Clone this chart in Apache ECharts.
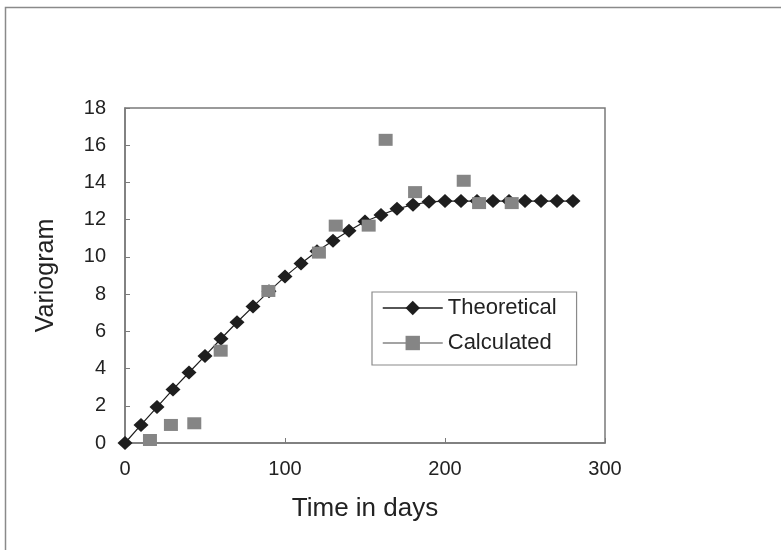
<!DOCTYPE html>
<html>
<head>
<meta charset="utf-8">
<script src="https://cdn.jsdelivr.net/npm/echarts@6/dist/echarts.min.js"></script>
<style>
html,body{margin:0;padding:0;background:#fff;}
#c{width:781px;height:550px;}
</style>
</head>
<body>
<div id="c"></div>
<script>
// Data
const theoX = [0,10,20,30,40,50,60,70,80,90,100,110,120,130,140,150,160,170,180,190,200,210,220,230,240,250,260,270,280];
const theoY = [0,0.97,1.93,2.88,3.79,4.68,5.6,6.49,7.33,8.15,8.94,9.65,10.3,10.87,11.4,11.9,12.25,12.58,12.8,12.96,13,13,13,13,13,13,13,13,13];
const calcX = [15.6,28.7,43.3,59.8,89.6,121.2,131.7,152.3,162.9,181.3,211.7,221.3,241.7];
const calcY = [0.16,0.97,1.06,4.96,8.17,10.23,11.68,11.68,16.29,13.48,14.09,12.89,12.89];
const seriesNames = ['Theoretical','Calculated'];
const xTitle = 'Time in days';
const yTitle = 'Variogram';

const FONT = '"Liberation Sans", Arial, sans-serif';
const chart = echarts.init(document.getElementById('c'), null, {renderer:'canvas'});

const theoData = theoX.map((x,i)=>[x, theoY[i]]);
const calcData = calcX.map((x,i)=>[x, calcY[i]]);

chart.setOption({
  animation:false,
  backgroundColor:'#fff',
  graphic:[{
    type:'rect', shape:{x:5.5,y:7.5,width:820,height:600},
    style:{fill:'none',stroke:'#8a8a8a',lineWidth:1.5}, z:-10
  }],
  grid:{left:125,top:108,right:176,bottom:107,show:true,borderColor:'#7a7a7a',borderWidth:1.5,backgroundColor:'transparent'},
  legend:{
    orient:'vertical', left:372, top:292,
    padding:[5,20,11,10], itemGap:13, itemWidth:60, itemHeight:18,
    borderColor:'#8a8a8a', borderWidth:1.2, backgroundColor:'#fff',
    textStyle:{fontFamily:FONT,fontSize:22,color:'#222'},
    data:[
      {name:seriesNames[0], itemStyle:{color:'#1e1e1e'}, lineStyle:{color:'#1e1e1e',width:1.3,opacity:1}},
      {name:seriesNames[1], itemStyle:{color:'#858585'}, lineStyle:{color:'#858585',width:1.5,opacity:1}}
    ]
  },
  xAxis:{
    type:'value', min:0, max:300, interval:100,
    name:xTitle, nameLocation:'middle', nameGap:53,
    nameTextStyle:{fontFamily:FONT,fontSize:26,color:'#222'},
    axisLine:{show:true,lineStyle:{color:'#7a7a7a',width:1.5}},
    axisTick:{show:true,inside:true,length:5,lineStyle:{color:'#7a7a7a'}},
    axisLabel:{fontFamily:FONT,fontSize:20,color:'#222',margin:16},
    splitLine:{show:false}
  },
  yAxis:{
    type:'value', min:0, max:18, interval:2,
    name:yTitle, nameLocation:'middle', nameGap:66, nameRotate:90,
    nameTextStyle:{fontFamily:FONT,fontSize:25,color:'#222'},
    axisLine:{show:true,lineStyle:{color:'#7a7a7a',width:1.5}},
    axisTick:{show:true,inside:true,length:5,lineStyle:{color:'#7a7a7a'}},
    axisLabel:{fontFamily:FONT,fontSize:20,color:'#222',margin:19},
    splitLine:{show:false}
  },
  series:[
    {
      name:seriesNames[0], type:'line', data:theoData,
      symbol:'diamond', symbolSize:[15,14], showSymbol:true,
      itemStyle:{color:'#1e1e1e'},
      lineStyle:{color:'#1e1e1e',width:1.2},
      z:2
    },
    {
      name:seriesNames[1], type:'line', data:calcData,
      symbol:'rect', symbolSize:[14,12], showSymbol:true,
      itemStyle:{color:'#858585'},
      lineStyle:{width:0,opacity:0},
      z:3
    }
  ]
});
</script>
</body>
</html>
